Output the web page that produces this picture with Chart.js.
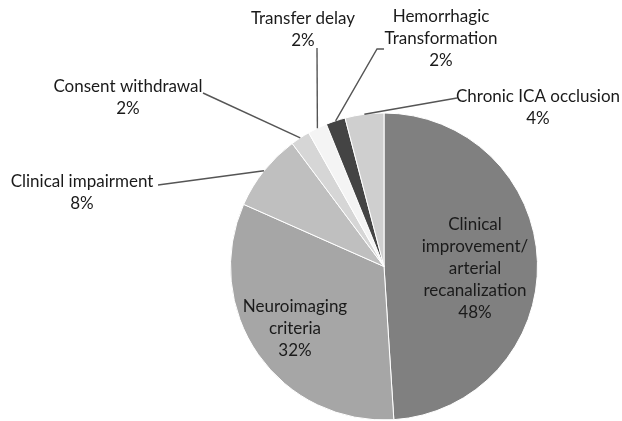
<!DOCTYPE html>
<html>
<head>
<meta charset="utf-8">
<script src="https://cdn.jsdelivr.net/npm/chart.js@4"></script>
<style>
  html, body { margin: 0; padding: 0; background: #fff; }
  #wrap { width: 622px; height: 421px; position: relative; }
</style>
</head>
<body>
<div id="wrap"><canvas id="chart"></canvas></div>
<script>
// Slices, clockwise from 12 o'clock
const labels = [
    ['Clinical', 'improvement/', 'arterial', 'recanalization'],
    ['Neuroimaging', 'criteria'],
    ['Clinical impairment'],
    ['Consent withdrawal'],
    ['Transfer delay'],
    ['Hemorrhagic', 'Transformation'],
    ['Chronic ICA occlusion']
];
const values = [48, 32, 8, 2, 2, 2, 4];
const pctText = ['48%', '32%', '8%', '2%', '2%', '2%', '4%'];
const colors = ['#808080', '#a6a6a6', '#bfbfbf', '#d6d6d6', '#f4f4f4', '#444444', '#cfcfcf'];

// Label placement: inside labels, or outside callouts with text anchor + elbow point
const labelPos = [
    { x: 475, y: 225, inside: true },
    { x: 295, y: 307, inside: true },
    { x: 82, y: 182, elbow: [158, 185] },
    { x: 128, y: 87, elbow: [203, 93] },
    { x: 303, y: 19, elbow: [317, 48] },
    { x: 441, y: 17, elbow: [377, 49], tick: [384, 49] },
    { x: 538, y: 97, elbow: [457, 98] }
];

const calloutPlugin = {
    id: 'callouts',
    afterDatasetsDraw(chart) {
        const ctx = chart.ctx;
        const arcs = chart.getDatasetMeta(0).data;
        ctx.save();
        ctx.font = '17px Lato, "Open Sans", sans-serif';
        ctx.fillStyle = '#1a1a1a';
        ctx.textAlign = 'center';
        ctx.textBaseline = 'middle';
        const lh = 22;
        arcs.forEach((arc, i) => {
            const p = labelPos[i];
            const lines = labels[i].concat([pctText[i]]);
            lines.forEach((t, k) => ctx.fillText(t, p.x, p.y + k * lh));
            if (p.inside) return;
            // leader from elbow to the arc's outer edge midpoint
            const mid = (arc.startAngle + arc.endAngle) / 2;
            const ex = arc.x + Math.cos(mid) * arc.outerRadius;
            const ey = arc.y + Math.sin(mid) * arc.outerRadius;
            ctx.strokeStyle = '#555';
            ctx.lineWidth = 1.4;
            ctx.beginPath();
            if (p.tick) {
                ctx.moveTo(p.tick[0], p.tick[1]);
                ctx.lineTo(p.elbow[0], p.elbow[1]);
            } else {
                ctx.moveTo(p.elbow[0], p.elbow[1]);
            }
            ctx.lineTo(ex, ey);
            ctx.stroke();
        });
        ctx.restore();
    }
};

new Chart(document.getElementById('chart'), {
    type: 'pie',
    data: {
        labels: labels.map(l => l.join(' ')),
        datasets: [{
            data: values,
            backgroundColor: colors,
            borderColor: '#ffffff',
            borderWidth: 1
        }]
    },
    options: {
        responsive: true,
        maintainAspectRatio: false,
        animation: false,
        layout: { padding: { left: 230, right: 84, top: 112, bottom: 0 } },
        plugins: {
            legend: { display: false },
            tooltip: { enabled: false }
        }
    },
    plugins: [calloutPlugin]
});
</script>
</body>
</html>
